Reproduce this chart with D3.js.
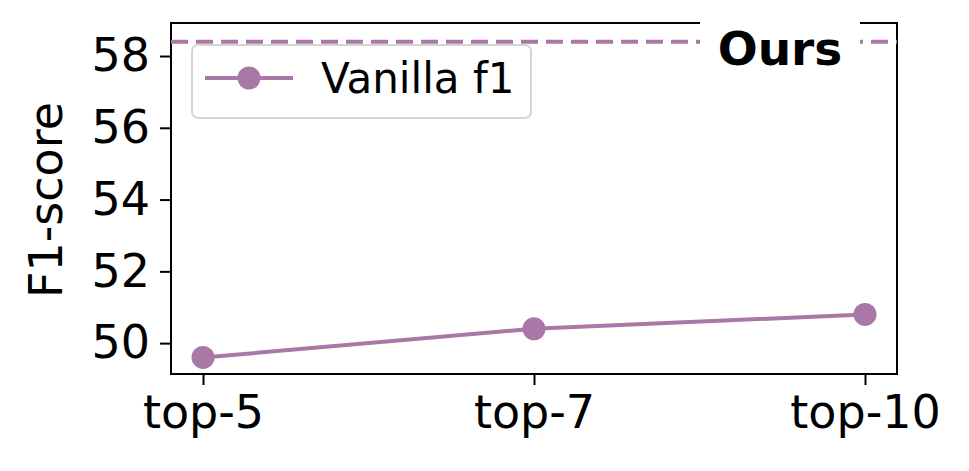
<!DOCTYPE html>
<html><head><meta charset="utf-8">
<script src="https://cdn.jsdelivr.net/npm/d3@7"></script>
<style>body{margin:0;background:#fff}svg{display:block}</style>
</head><body>
<svg id="c" width="969" height="471"></svg>
<script>
const categories = ["top-5", "top-7", "top-10"];
const vanillaF1 = [49.6, 50.4, 50.8];
const oursValue = 58.4;
const yTicks = [50, 52, 54, 56, 58];
const seriesName = "Vanilla f1";
const oursLabel = "Ours";
const yLabel = "F1-score";

const color = "#a978a6";
const font = "DejaVu Sans, sans-serif";
const svg = d3.select("#c");
const m = {l: 171, r: 897, t: 23, b: 374};

const x = d3.scalePoint().domain(categories).range([203, 865]);
const y = d3.scaleLinear().domain([49.14, 58.92]).range([m.b, m.t]);

// axes
const yAxis = svg.append("g").attr("transform", `translate(${m.l},0)`)
  .call(d3.axisLeft(y).tickValues(yTicks).tickSize(11).tickPadding(10).tickFormat(d3.format("d")));
const xAxis = svg.append("g").attr("transform", `translate(0,${m.b})`)
  .call(d3.axisBottom(x).tickSize(11).tickPadding(10));
[yAxis, xAxis].forEach(a => {
  a.select(".domain").remove();
  a.selectAll("line").attr("stroke", "#000").attr("stroke-width", 2);
  a.selectAll("text").attr("font-family", font).attr("font-size", 46).attr("fill", "#000");
});

// frame
svg.append("rect").attr("x", m.l).attr("y", m.t).attr("width", m.r - m.l).attr("height", m.b - m.t)
  .attr("fill", "none").attr("stroke", "#000").attr("stroke-width", 2);

// dashed line
svg.append("line").attr("x1", m.l).attr("x2", m.r).attr("y1", y(oursValue)).attr("y2", y(oursValue))
  .attr("stroke", color).attr("stroke-width", 4).attr("stroke-dasharray", "17,8");

// line + markers
const pts = categories.map((c, i) => [x(c), y(vanillaF1[i])]);
svg.append("path").attr("d", d3.line()(pts)).attr("fill", "none").attr("stroke", color).attr("stroke-width", 4);
svg.selectAll("circle.pt").data(pts).enter().append("circle").attr("class", "pt")
  .attr("cx", d => d[0]).attr("cy", d => d[1]).attr("r", 11.5).attr("fill", color);

// Ours label with white box
svg.append("rect").attr("x", 700).attr("y", 14).attr("width", 160).attr("height", 62).attr("fill", "#fff");
svg.append("text").attr("x", 780).attr("y", 65).attr("text-anchor", "middle")
  .attr("font-family", font).attr("font-weight", "bold").attr("font-size", 47).text(oursLabel);

// legend
const lg = svg.append("g");
lg.append("rect").attr("x", 192).attr("y", 45).attr("width", 339).attr("height", 73).attr("rx", 6)
  .attr("fill", "#fff").attr("fill-opacity", 0.8).attr("stroke", "#d5d5d5").attr("stroke-width", 2);
lg.append("line").attr("x1", 205).attr("x2", 293).attr("y1", 78).attr("y2", 78).attr("stroke", color).attr("stroke-width", 4);
lg.append("circle").attr("cx", 249).attr("cy", 78).attr("r", 11.5).attr("fill", color);
lg.append("text").attr("x", 321).attr("y", 93).attr("font-family", font).attr("font-size", 42).text(seriesName);

// y label
svg.append("text").attr("transform", "translate(62,200) rotate(-90)").attr("text-anchor", "middle")
  .attr("font-family", font).attr("font-size", 46).text(yLabel);
</script>
</body></html>
